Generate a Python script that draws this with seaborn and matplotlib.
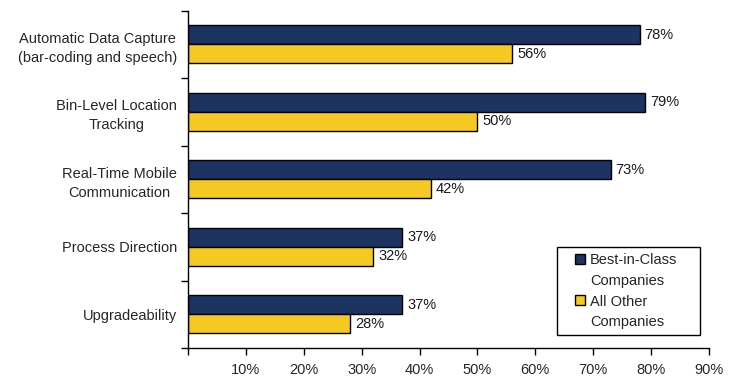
import matplotlib
matplotlib.use("Agg")
import matplotlib.pyplot as plt
import seaborn as sns
import pandas as pd
from matplotlib.lines import Line2D
from matplotlib.ticker import FixedLocator

categories = ["Automatic Data Capture\n(bar-coding and speech)",
              "Bin-Level Location\nTracking",
              "Real-Time Mobile\nCommunication",
              "Process Direction",
              "Upgradeability"]
best_in_class = [78, 79, 73, 37, 37]
all_other = [56, 50, 42, 32, 28]
series_names = ["Best-in-Class Companies", "All Other Companies"]
legend_lines = [["Best-in-Class", "Companies"], ["All Other", "Companies"]]
x_ticks = [0, 10, 20, 30, 40, 50, 60, 70, 80, 90]
x_tick_labels = ["", "10%", "20%", "30%", "40%", "50%", "60%", "70%", "80%", "90%"]

colors = ["#1B3461", "#F5C823"]
FS = 10.5

df = pd.DataFrame({
    "category": categories * 2,
    "value": best_in_class + all_other,
    "series": [series_names[0]] * len(categories) + [series_names[1]] * len(categories),
})

sns.set_style("white")
plt.rcParams["font.family"] = ["Liberation Sans", "DejaVu Sans"]
plt.rcParams["font.size"] = FS

fig = plt.figure(figsize=(7.36, 3.86), dpi=100)
ax = fig.add_axes([188/736, 1 - 348/386, (709 - 188)/736, (348 - 10.5)/386])

sns.barplot(data=df, y="category", x="value", hue="series", orient="h",
            palette=colors, width=0.56, edgecolor="black", linewidth=1.0,
            dodge=True, ax=ax, legend=False, saturation=1)

for cont in ax.containers:
    ax.bar_label(cont, fmt="%.0f%%", padding=3.5, fontsize=FS, color="#1a1a1a")

ax.set_xlim(0, 90)
ax.set_ylim(len(categories) - 0.5, -0.5)
ax.set_xticks(x_ticks)
ax.set_xticklabels(x_tick_labels, fontsize=FS)
ax.set_xlabel("")
ax.set_ylabel("")

ax.set_yticks(range(len(categories)))
ax.set_yticklabels(categories, fontsize=FS)
for t in ax.get_yticklabels():
    t.set_multialignment("center")
    t.set_linespacing(1.45)
ax.yaxis.set_minor_locator(FixedLocator([i + 0.5 for i in range(-1, len(categories))]))
ax.tick_params(axis="y", which="major", length=0, pad=8)
ax.tick_params(axis="y", which="minor", length=5, width=1, color="black", left=True)
ax.tick_params(axis="x", which="major", length=5, width=1, color="black", bottom=True, pad=6)

sns.despine(ax=ax, top=True, right=True)
for s in ["left", "bottom"]:
    ax.spines[s].set_color("black")
    ax.spines[s].set_linewidth(1)

handles, labels = [], []
for c, lines in zip(colors, legend_lines):
    handles.append(Line2D([], [], linestyle="none", marker="s", markersize=7.5,
                          markerfacecolor=c, markeredgecolor="black", markeredgewidth=1))
    labels.append(lines[0])
    handles.append(Line2D([], [], linestyle="none", marker=None))
    labels.append(lines[1])

leg = fig.legend(handles, labels, loc="upper left",
                 bbox_to_anchor=(557/736, 1 - 247/386), bbox_transform=fig.transFigure,
                 borderaxespad=0, frameon=True, fancybox=False, edgecolor="black",
                 fontsize=FS, handlelength=2.36, handletextpad=-0.5,
                 borderpad=0.4, labelspacing=0.47)
leg.get_frame().set_linewidth(1)

# widen the legend frame on the right to match the reference box
fig.canvas.draw()
bb = leg.get_window_extent()
target_right = 700
extra = target_right - bb.x1
if extra > 0:
    leg._legend_box.set_width if False else None
    frame = leg.get_frame()
    leg.borderpad = leg.borderpad
    from matplotlib.patches import Rectangle
    frame.set_visible(False)
    rect = Rectangle((bb.x0 / fig.dpi / 7.36 * 1.0, bb.y0 / fig.dpi / 3.86),
                     (target_right - bb.x0) / 736, bb.height / 386,
                     transform=fig.transFigure, facecolor="white",
                     edgecolor="black", linewidth=1, zorder=leg.get_zorder() - 0.1)
    fig.add_artist(rect)

fig.savefig("out.png", dpi=100)
